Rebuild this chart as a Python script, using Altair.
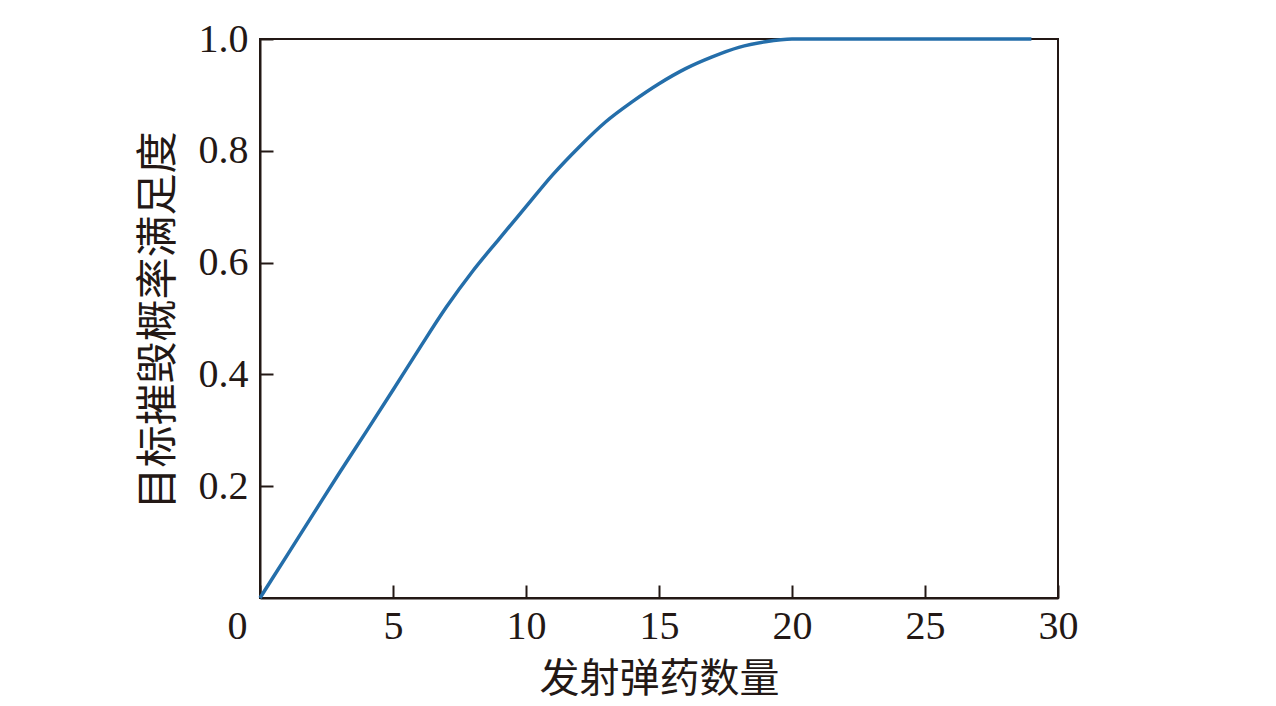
import altair as alt
import pandas as pd

shots = [0, 1, 2, 3, 4, 5, 6, 7, 8, 9, 10, 11, 12, 13, 14, 15, 16, 17, 18, 19,
         20, 21, 22, 23, 24, 25, 26, 27, 28, 29]
satisfaction = [0.0, 0.075, 0.15, 0.225, 0.298, 0.372, 0.447, 0.52, 0.585, 0.643,
                0.70, 0.757, 0.807, 0.852, 0.888, 0.92, 0.947, 0.968, 0.985, 0.995,
                1.0, 1.0, 1.0, 1.0, 1.0, 1.0, 1.0, 1.0, 1.0, 1.0]
x_ticks = [0, 5, 10, 15, 20, 25, 30]
y_ticks = [0.2, 0.4, 0.6, 0.8, 1.0]

df = pd.DataFrame({"x": shots, "y": satisfaction})

INK = "#231815"
SERIF = "Liberation Serif"
CJK = "Noto Sans CJK SC"
TICK = 13

chart = alt.Chart(df).mark_line(color="#246eaa", strokeWidth=3.5, clip=False,
                                interpolate="monotone").encode(
    x=alt.X("x:Q", scale=alt.Scale(domain=[0, 30], nice=False),
            axis=alt.Axis(values=x_ticks, title="发射弹药数量", grid=False,
                          labelFont=SERIF, labelFontSize=40, labelColor=INK,
                          labelPadding=8 + TICK, labelFlush=False,
                          labelOffset=alt.ExprRef("datum.value == 0 ? -23 : 0"),
                          tickSize=alt.ExprRef("-13"), tickWidth=2, tickColor=INK,
                          domainColor=INK, domainWidth=2,
                          titleFont=CJK, titleFontSize=40, titleFontWeight="normal",
                          titleColor=INK, titleY=93, titleBaseline="alphabetic")),
    y=alt.Y("y:Q", scale=alt.Scale(domain=[0, 1], nice=False),
            axis=alt.Axis(values=y_ticks, format=".1f", title="目标摧毁概率满足度",
                          grid=False,
                          labelFont=SERIF, labelFontSize=40, labelColor=INK,
                          labelPadding=12 + TICK, labelFlush=False,
                          tickSize=alt.ExprRef("-13"), tickWidth=2, tickColor=INK,
                          domainColor=INK, domainWidth=2,
                          titleFont=CJK, titleFontSize=42, titleFontWeight="normal",
                          titleColor=INK, titleAngle=-90, titleX=-102, titleY=281,
                          titleAlign="center", titleBaseline="middle")),
).properties(
    width=798, height=559,
    autosize=alt.AutoSizeParams(type="none"),
    padding={"left": 252, "top": 31, "right": 60, "bottom": 106},
).configure_view(stroke=INK, strokeWidth=2)

chart.save("out.html", embed_options={"renderer": "svg", "actions": False})
